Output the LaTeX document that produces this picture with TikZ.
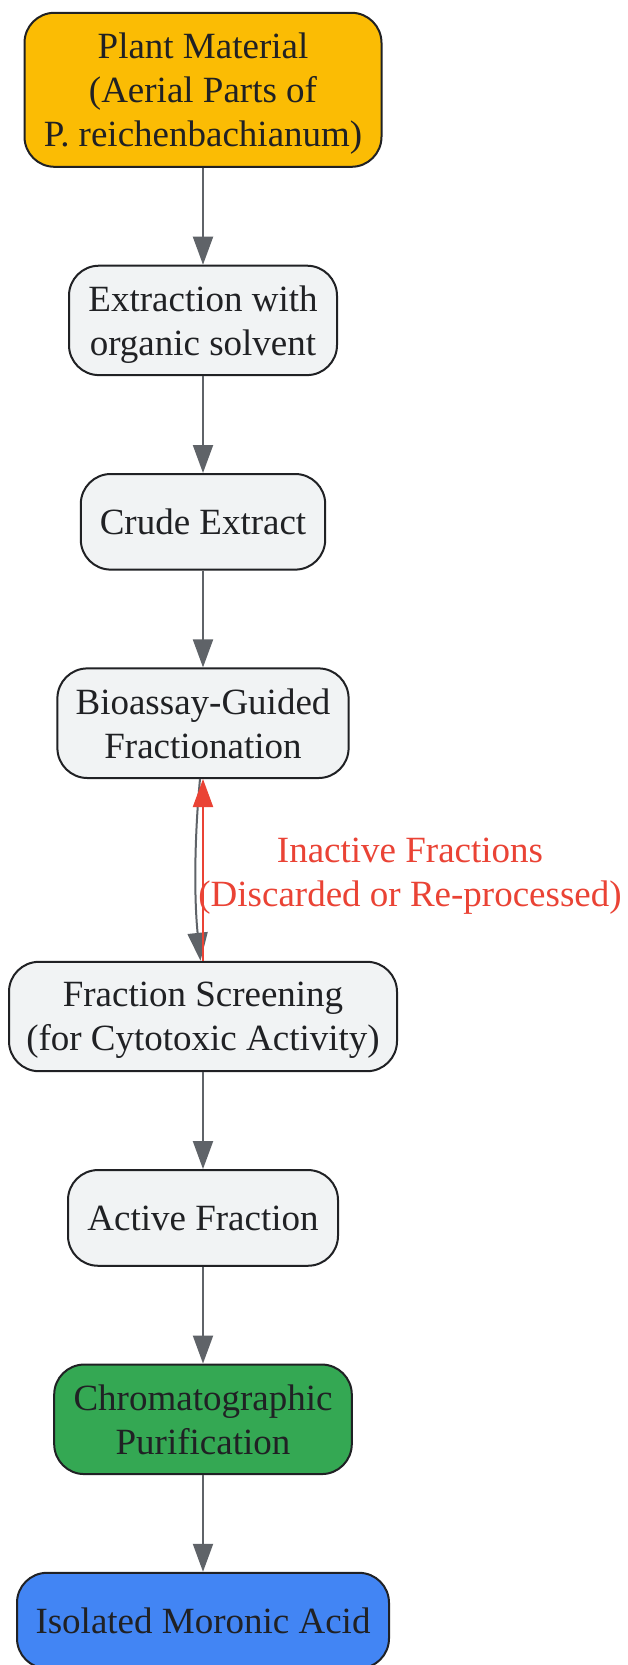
\documentclass[tikz,border=0pt]{standalone}
\usepackage{fontspec}
\setmainfont{Liberation Serif}
\usetikzlibrary{arrows.meta}
\definecolor{ink}{HTML}{202124}
\definecolor{edgegray}{HTML}{5F6368}
\definecolor{boxgray}{HTML}{F1F3F4}
\definecolor{boxyellow}{HTML}{FBBC04}
\definecolor{boxgreen}{HTML}{34A853}
\definecolor{boxblue}{HTML}{4285F4}
\definecolor{labelred}{HTML}{EA4335}
\begin{document}
\begin{tikzpicture}[x=1pt,y=-1pt,
  box/.style={draw=ink, line width=2pt, rounded corners=30pt, align=center,
    font=\fontsize{37}{44}\selectfont, text=ink, inner sep=0pt, text depth=-3pt},
  arr/.style={draw=edgegray, line width=2pt, -{Triangle[length=28pt,width=20pt]}},
  redarr/.style={draw=labelred, line width=2pt, -{Triangle[length=28pt,width=20pt]}},
  lbl/.style={align=center, font=\fontsize{37}{44}\selectfont, text=labelred, inner sep=0pt, text depth=-3pt}]
\fill[white] (0,0) rectangle (627,1665);
\useasboundingbox (0,0) rectangle (627,1665);
\node[box, fill=boxyellow, minimum width=357pt, minimum height=154pt] (n1) at (203,89.8) {Plant Material\\(Aerial Parts of\\P. reichenbachianum)};
\node[box, fill=boxgray, minimum width=268pt, minimum height=109.4pt] (n2) at (203,320.4) {Extraction with\\organic solvent};
\node[box, fill=boxgray, minimum width=244.4pt, minimum height=95.6pt] (n3) at (203,521.8) {Crude Extract};
\node[box, fill=boxgray, minimum width=291.2pt, minimum height=109.6pt] (n4) at (203,723.2) {Bioassay-Guided\\Fractionation};
\node[box, fill=boxgray, minimum width=388pt, minimum height=109.4pt] (n5) at (203,1016.5) {Fraction Screening\\(for Cytotoxic Activity)};
\node[box, fill=boxgray, minimum width=270pt, minimum height=95.7pt] (n6) at (203,1217.9) {Active Fraction};
\node[box, fill=boxgreen, minimum width=297.6pt, minimum height=109.5pt] (n7) at (203,1419.3) {Chromatographic\\Purification};
\node[box, fill=boxblue, minimum width=372pt, minimum height=95.6pt] (n8) at (203,1620.6) {Isolated Moronic Acid};
\draw[arr] (n1) -- (n2);
\draw[arr] (n2) -- (n3);
\draw[arr] (n3) -- (n4);
\draw[arr] ([xshift=-3pt]n4.south) .. controls (194.2,840) and (194.2,900) .. ([xshift=-2.5pt]n5.north);
\draw[redarr] (n5.north) -- (n4.south);
\draw[arr] (n5) -- (n6);
\draw[arr] (n6) -- (n7);
\draw[arr] (n7) -- (n8);
\node[lbl] (lab) at (410,872) {Inactive Fractions\\(Discarded or Re-processed)};
\end{tikzpicture}
\end{document}
